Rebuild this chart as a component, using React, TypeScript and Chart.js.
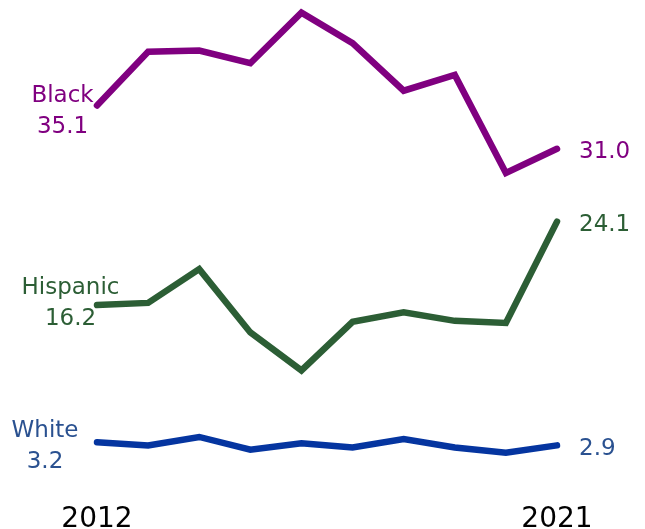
import React, { useEffect, useRef } from "react";
import { Chart, registerables } from "chart.js";

Chart.register(...registerables);

const years = ["2012", "2013", "2014", "2015", "2016", "2017", "2018", "2019", "2020", "2021"];
const blackValues = [35.1, 40.2, 40.3, 39.1, 43.9, 41.0, 36.5, 38.0, 28.7, 31.0];
const hispanicValues = [16.2, 16.4, 19.6, 13.6, 10.0, 14.6, 15.5, 14.7, 14.5, 24.1];
const whiteValues = [3.2, 2.9, 3.7, 2.5, 3.1, 2.7, 3.5, 2.7, 2.2, 2.9];
const seriesNames = ["Black", "Hispanic", "White"];
const lineColors = ["#800080", "#2C5E35", "#0535A0"];
const textColors = ["#800080", "#2C5E35", "#2A5190"];
const yearLabels = ["2012", "2021"];

// label placement offsets relative to first point (center x offset, baseline offsets)
const startLabelDx = [-34.5, -26.5, -52];
const startLabelDy = [-4, -11, -5];

export default function App() {
  const ref = useRef<HTMLCanvasElement | null>(null);
  useEffect(() => {
    if (!ref.current) return;
    const seriesData = [blackValues, hispanicValues, whiteValues];
    const labelPlugin = {
      id: "labels",
      afterDatasetsDraw(chart: any) {
        const ctx = chart.ctx as CanvasRenderingContext2D;
        ctx.save();
        chart.data.datasets.forEach((ds: any, i: number) => {
          const meta = chart.getDatasetMeta(i);
          const first = meta.data[0];
          const last = meta.data[meta.data.length - 1];
          const vals = seriesData[i];
          ctx.fillStyle = textColors[i];
          ctx.font = "23px 'DejaVu Sans'";
          ctx.textBaseline = "alphabetic";
          ctx.textAlign = "center";
          const cx = first.x + startLabelDx[i];
          const by = first.y + startLabelDy[i];
          ctx.fillText(seriesNames[i], cx, by);
          ctx.fillText(vals[0].toFixed(1), cx, by + 31);
          ctx.textAlign = "left";
          ctx.fillText(vals[vals.length - 1].toFixed(1), last.x + 22, last.y + 9.5);
        });
        const xs = chart.scales.x;
        ctx.fillStyle = "#000000";
        ctx.font = "28px 'DejaVu Sans'";
        ctx.textAlign = "center";
        ctx.fillText(yearLabels[0], xs.getPixelForValue(0), 527);
        ctx.fillText(yearLabels[1], xs.getPixelForValue(years.length - 1), 527);
        ctx.restore();
      },
    };
    const chart = new Chart(ref.current, {
      type: "line",
      data: {
        labels: years,
        datasets: seriesData.map((d, i) => ({
          label: seriesNames[i],
          data: d,
          borderColor: lineColors[i],
          borderWidth: 6.5,
          pointRadius: 0,
          tension: 0,
          fill: false,
          borderCapStyle: "round" as const,
          borderJoinStyle: "miter" as const,
          clip: false as any,
        })),
      },
      options: {
        responsive: false,
        animation: false,
        layout: { padding: { left: 97, right: 88, top: 1, bottom: 53 } },
        plugins: { legend: { display: false }, tooltip: { enabled: false } },
        scales: {
          x: { display: false, offset: false },
          y: { display: false, min: 0, max: 45 },
        },
      },
      plugins: [labelPlugin],
    });
    return () => chart.destroy();
  }, []);
  return (
    <div style={{ position: "fixed", left: 0, top: 0, width: 645, height: 529, background: "#fff" }}>
      <canvas ref={ref} width={645} height={529} />
    </div>
  );
}
